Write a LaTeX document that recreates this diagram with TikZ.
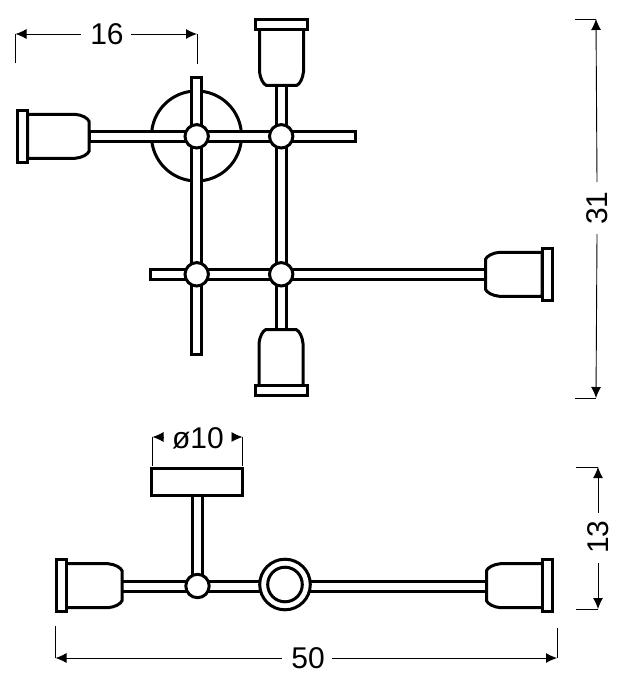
\documentclass[tikz,border=0pt]{standalone}
\usepackage{fontspec}
\setmainfont{Liberation Sans}
\usetikzlibrary{arrows.meta}
\tikzset{
	part/.style={draw=black, fill=white, line width=3pt, line join=miter},
	dimline/.style={draw=black, line width=0.9pt},
	dimarrow/.style={dimline, -{Latex[length=11pt,width=10pt]}},
	dimtext/.style={font=\fontsize{30}{32}\selectfont, inner sep=0pt, text=black},
}
\def\lamp(#1)(#2:#3){
	\begin{scope}[shift={(#1)},rotate=#2]
		\draw[part] (0, 13) -- (0, 15) .. controls (1, 18) and (7, 21.5) .. (14, 22) -- (#3-1, 22) -- (#3, 21) -- (#3, -21) -- (#3-1, -22) -- (14, -22) .. controls (7, -21.5) and (1, -18) .. (0, -15) -- (0, -13) -- cycle;
		\draw[part] (#3, -26) rectangle (#3+10, 26);
	\end{scope}
}
\def\joint(#1){\draw[part] (#1) circle (11.7);}

\begin{document}
\begin{tikzpicture}[x=1pt, y=-1pt]
			\useasboundingbox (0, 0) rectangle (622, 690);
			%%%%% TOP VIEW %%%%%
			\draw[line width=3pt] (196.5, 136) circle (45);
			
			\draw[part] (89, 131.5) rectangle (355.5, 141.5);
			\draw[part] (191.7, 78) rectangle (201.7, 354.5);
			\draw[part] (276.3, 80) rectangle (286.3, 335);
			\draw[part] (150, 269.3) rectangle (490, 279.3);
			
			\joint(196.7, 136.3)
			\joint(281.2, 136.3)
			\joint(196.7, 274.3)
			\joint(281.2, 274.3)
			
			\lamp(281.5, 85.5)(90:56)
			\lamp(89, 136.3)(180:61.5)
			\lamp(485.5, 274.3)(0:56.5)
			\lamp(281, 329.5)(-90:56)
			
			%%%%% SIDE VIEW %%%%%
			\draw[part] (192, 490) rectangle (202.5, 580);
			\draw[part] (151.8, 468.5) rectangle (242.5, 495.5);
			\draw[part] (120, 581) rectangle (490, 591);
			\joint(197.5, 586)
			\draw[part] (285, 584.5) circle (25.3);
			\draw[part] (285, 584.5) circle (17.3);
			
			\lamp(122, 585.7)(180:56)
			\lamp(486.5, 585.7)(0:56)
			
			%%%%% DIMENSIONS %%%%%
			\node[dimtext] (dimA) at (107, 34) {16};
			\coordinate (dimAl) at (15.5, 34);
			\coordinate (dimAr) at (197, 34);
			\draw[dimarrow] ([xshift=-26pt]dimA.center) -- (dimAl);
			\draw[dimarrow] ([xshift=24pt]dimA.center) -- (dimAr);
			\draw[dimline] (dimAl) -- (15.5, 63);
			\draw[dimline] (dimAr) -- (197, 64);
			
			\node[dimtext, rotate=90] (dimB) at (597, 208) {31};
			\coordinate (dimBt) at (596, 19);
			\coordinate (dimBb) at (596, 398);
			\draw[dimarrow] ([yshift=26pt]dimB.center) -- (dimBt);
			\draw[dimarrow] ([yshift=-26pt]dimB.center) -- (dimBb);
			\draw[dimline] (dimBt) -- (575, 19);
			\draw[dimline] (dimBb) -- (575, 398);
			
			\node[dimtext, rotate=90] (dimC) at (598, 537) {13};
			\coordinate (dimCt) at (598, 467);
			\coordinate (dimCb) at (598, 609);
			\draw[dimarrow] ([yshift=24pt]dimC.center) -- (dimCt);
			\draw[dimarrow] ([yshift=-26pt]dimC.center) -- (dimCb);
			\draw[dimline] (dimCt) -- (576, 467);
			\draw[dimline] (dimCb) -- (576, 609);
			
			\node[dimtext] (dimD) at (308, 658) {50};
			\coordinate (dimDl) at (55.5, 658);
			\coordinate (dimDr) at (557, 658);
			\draw[dimarrow] ([xshift=-26pt]dimD.center) -- (dimDl);
			\draw[dimarrow] ([xshift=24pt]dimD.center) -- (dimDr);
			\draw[dimline] (dimDl) -- (55.5, 626);
			\draw[dimline] (dimDr) -- (557, 628);
			
			\node[dimtext] (dimE) at (198, 438) {ø10};
			\coordinate (dimEl) at (152.5, 437);
			\coordinate (dimEr) at (242.5, 437);
			\draw[dimarrow] (163, 437) -- (dimEl);
			\draw[dimarrow] (232, 437) -- (dimEr);
			\draw[dimline] (dimEl) -- (152.5, 466);
			\draw[dimline] (dimEr) -- (242.5, 466);
			%%%%% END %%%%%
		\end{tikzpicture}
\end{document}
